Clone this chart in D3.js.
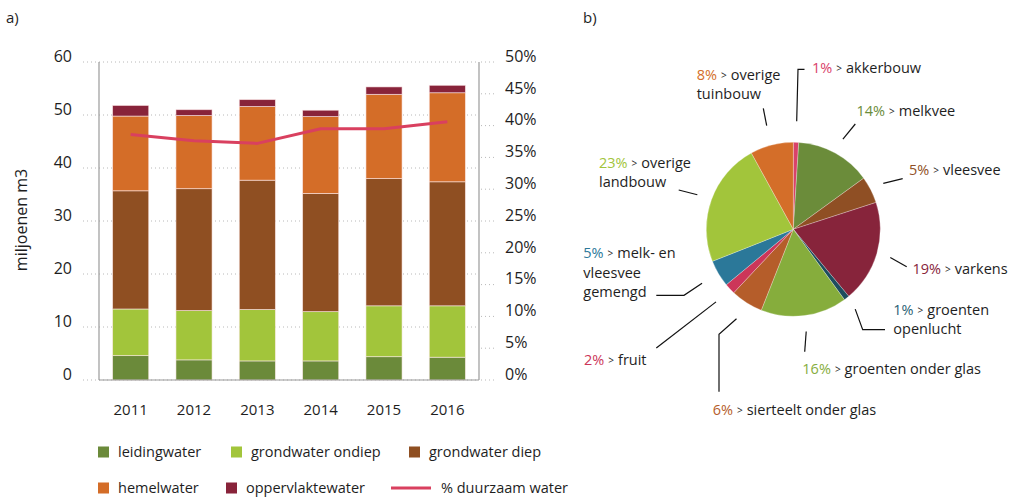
<!DOCTYPE html>
<html>
<head>
<meta charset="utf-8">
<script src="https://cdn.jsdelivr.net/npm/d3@7"></script>
<style>
  html, body { margin: 0; padding: 0; background: #fff; }
  svg { display: block; font-family: "Open Sans", "DejaVu Sans", sans-serif; }
</style>
</head>
<body>
<svg id="chart" width="1009" height="497"></svg>
<script>
// ---- a) water use per source (million m3) ----
const years = ["2011", "2012", "2013", "2014", "2015", "2016"];
const sources = ["leidingwater", "grondwater ondiep", "grondwater diep", "hemelwater", "oppervlaktewater"];
const leidingwater      = [4.6, 3.8, 3.6, 3.6, 4.4, 4.3];
const grondwaterOndiep  = [8.8, 9.3, 9.7, 9.3, 9.6, 9.7];
const grondwaterDiep    = [22.3, 23.0, 24.4, 22.3, 24.0, 23.4];
const hemelwater        = [14.1, 13.8, 13.9, 14.5, 15.9, 16.8];
const oppervlaktewater  = [2.0, 1.1, 1.3, 1.2, 1.4, 1.4];
const duurzaamPct       = [38.6, 37.6, 37.2, 39.5, 39.5, 40.6];
const leftTicks  = [0, 10, 20, 30, 40, 50, 60];
const rightTicks = [0, 5, 10, 15, 20, 25, 30, 35, 40, 45, 50];

// ---- b) share per sector ----
const sectors = ["akkerbouw", "melkvee", "vleesvee", "varkens", "groenten openlucht",
  "groenten onder glas", "sierteelt onder glas", "fruit", "melk- en vleesvee gemengd",
  "overige landbouw", "overige tuinbouw"];
const sectorShare = [1, 14, 5, 19, 1, 16, 6, 2, 5, 23, 8];

const sourceColors = ["#6b8a3a", "#a2c53b", "#8f4f22", "#d46d28", "#88233a"];
const lineColor = "#d9405f";
const sectorColors = ["#d9426a", "#6b8c3a", "#8f4f24", "#87243b", "#1d4d5e",
  "#86ad3c", "#b55d2a", "#cc3659", "#2b7899", "#a2c53b", "#d46e29"];
const textColor = "#1e1e1e";
const labelSize = 14.5;

const svg = d3.select("#chart");

// panel letters
svg.append("text").attr("x", 6).attr("y", 23).attr("font-size", 15).attr("fill", textColor).text("a)");
svg.append("text").attr("x", 583).attr("y", 23).attr("font-size", 15).attr("fill", textColor).text("b)");

// ---------------- stacked bars ----------------
const plot = { left: 99, right: 479, top: 62, bottom: 380 };
const x = d3.scaleBand().domain(years).range([plot.left, plot.right]).paddingInner(0.43).paddingOuter(0.215);
const y = d3.scaleLinear().domain([0, 60]).range([plot.bottom, plot.top]);
const yPct = d3.scaleLinear().domain([0, 50]).range([plot.bottom, plot.top]);

const table = years.map((yr, i) => ({
  year: yr,
  "leidingwater": leidingwater[i],
  "grondwater ondiep": grondwaterOndiep[i],
  "grondwater diep": grondwaterDiep[i],
  "hemelwater": hemelwater[i],
  "oppervlaktewater": oppervlaktewater[i]
}));
const stacked = d3.stack().keys(sources)(table);

// dotted gridlines
svg.append("g").selectAll("line").data(leftTicks).join("line")
  .attr("x1", 83).attr("x2", plot.right)
  .attr("y1", d => y(d)).attr("y2", d => y(d))
  .attr("stroke", "#b8b8b8").attr("stroke-width", 1).attr("stroke-dasharray", "1,3");
// right-hand short dotted ticks
svg.append("g").selectAll("line").data(rightTicks).join("line")
  .attr("x1", plot.right + 2).attr("x2", plot.right + 15)
  .attr("y1", d => yPct(d)).attr("y2", d => yPct(d))
  .attr("stroke", "#b8b8b8").attr("stroke-width", 1).attr("stroke-dasharray", "1,3");

// bars
svg.append("g").selectAll("g").data(stacked).join("g")
  .attr("fill", (d, i) => sourceColors[i])
  .selectAll("rect").data(d => d).join("rect")
  .attr("x", d => x(d.data.year))
  .attr("width", x.bandwidth())
  .attr("y", d => y(d[1]))
  .attr("height", d => y(d[0]) - y(d[1]))
  .attr("stroke", "rgba(255,235,235,0.7)").attr("stroke-width", 0.8);

// axis frame
const frame = svg.append("g").attr("stroke", "#9a9a9a").attr("stroke-width", 1.2);
frame.append("line").attr("x1", plot.left).attr("x2", plot.left).attr("y1", plot.top).attr("y2", plot.bottom);
frame.append("line").attr("x1", plot.right).attr("x2", plot.right).attr("y1", plot.top).attr("y2", plot.bottom);
frame.append("line").attr("x1", plot.left).attr("x2", plot.right).attr("y1", plot.bottom).attr("y2", plot.bottom);

// left axis labels
const yAxis = d3.axisLeft(y).tickValues(leftTicks).tickSize(0).tickPadding(0);
const gy = svg.append("g").attr("transform", `translate(72,0)`).call(yAxis);
gy.select(".domain").remove();
gy.selectAll("text").attr("font-size", 16).attr("fill", textColor)
  .attr("font-family", "Open Sans, sans-serif").attr("dy", "-0.05em");

// right axis labels
const yAxisR = d3.axisRight(yPct).tickValues(rightTicks).tickFormat(d => d + "%").tickSize(0).tickPadding(0);
const gr = svg.append("g").attr("transform", `translate(505,0)`).call(yAxisR);
gr.select(".domain").remove();
gr.selectAll("text").attr("font-size", 16).attr("fill", textColor)
  .attr("font-family", "Open Sans, sans-serif").attr("dy", "-0.05em");

// x axis labels
const xAxis = d3.axisBottom(x).tickSize(0).tickPadding(0);
const gx = svg.append("g").attr("transform", `translate(0,404)`).call(xAxis);
gx.select(".domain").remove();
gx.selectAll("text").attr("font-size", 15).attr("fill", textColor)
  .attr("font-family", "Open Sans, sans-serif");

// y title
svg.append("text")
  .attr("transform", "translate(27,220) rotate(-90)")
  .attr("text-anchor", "middle").attr("font-size", 16).attr("fill", textColor)
  .text("miljoenen m3");

// % duurzaam water line
const line = d3.line().x((d, i) => x(years[i]) + x.bandwidth() / 2).y(d => yPct(d));
svg.append("path").datum(duurzaamPct)
  .attr("d", line).attr("fill", "none")
  .attr("stroke", lineColor).attr("stroke-width", 3).attr("stroke-linejoin", "round");

// legend
const legendItems = [
  { label: sources[0], color: sourceColors[0], x: 98, y: 452, kind: "box" },
  { label: sources[1], color: sourceColors[1], x: 231, y: 452, kind: "box" },
  { label: sources[2], color: sourceColors[2], x: 409, y: 452, kind: "box" },
  { label: sources[3], color: sourceColors[3], x: 98, y: 488, kind: "box" },
  { label: sources[4], color: sourceColors[4], x: 226, y: 488, kind: "box" },
  { label: "% duurzaam water", color: lineColor, x: 391, y: 488, kind: "line" }
];
const lg = svg.append("g").selectAll("g").data(legendItems).join("g")
  .attr("transform", d => `translate(${d.x},${d.y})`);
lg.filter(d => d.kind === "box").append("rect")
  .attr("x", 0).attr("y", -5.5).attr("width", 11).attr("height", 11).attr("fill", d => d.color);
lg.filter(d => d.kind === "line").append("line")
  .attr("x1", 0).attr("x2", 40).attr("y1", 0).attr("y2", 0)
  .attr("stroke", d => d.color).attr("stroke-width", 3);
lg.append("text")
  .attr("x", d => d.kind === "line" ? 50 : 20).attr("y", 5)
  .attr("font-size", labelSize).attr("fill", textColor).text(d => d.label);

// ---------------- pie ----------------
const cx = 793.3, cy = 229.3, R = 87;
const pieG = svg.append("g").attr("transform", `translate(${cx},${cy})`);
const pie = d3.pie().sort(null).value(d => d)(sectorShare);
const arc = d3.arc().innerRadius(0).outerRadius(R);
pieG.selectAll("path").data(pie).join("path")
  .attr("d", arc).attr("fill", (d, i) => sectorColors[i])
  .attr("stroke", "rgba(255,255,255,0.45)").attr("stroke-width", 0.6);

// label text and leader geometry per sector
const labelLines = [
  ["akkerbouw"], ["melkvee"], ["vleesvee"], ["varkens"], ["groenten", "openlucht"],
  ["groenten onder glas"], ["sierteelt onder glas"], ["fruit"], ["melk- en", "vleesvee", "gemengd"],
  ["overige", "landbouw"], ["overige", "tuinbouw"]
];
const labelLayout = [
  { tx: 812, ty: 73, leader: [[798, 69.3], [804.5, 69.3]], r: 108 },
  { tx: 856.5, ty: 116, leader: [[855.3, 124]], r: 103 },
  { tx: 909, ty: 174.5, leader: [[902.7, 178.7]], r: 101 },
  { tx: 912.5, ty: 274, leader: [[906.7, 266.7]], r: 101 },
  { tx: 893.3, ty: 315, leader: [[862.7, 329.7], [885, 329.7]], r: 101 },
  { tx: 802.3, ty: 373.5, leader: [[804.7, 351.7]], r: 103 },
  { tx: 712.7, ty: 414.5, leader: [[719, 334.3], [719, 391.7]], r: 106 },
  { tx: 584, ty: 365, leader: [[656.3, 348]], r: 106 },
  { tx: 583.3, ty: 258.3, leader: [[684, 295.3], [656.3, 295.3]], r: 106 },
  { tx: 599, ty: 167.7, leader: [[678.7, 190]], r: 102 },
  { tx: 696.7, ty: 80, leader: [[763.3, 108.3]], r: 107 }
];

const leaders = svg.append("g").attr("fill", "none").attr("stroke", "#111").attr("stroke-width", 1.2);
pie.forEach((p, i) => {
  const L = labelLayout[i];
  const mid = (p.startAngle + p.endAngle) / 2;
  const start = [cx + L.r * Math.sin(mid), cy - L.r * Math.cos(mid)];
  leaders.append("path").attr("d", d3.line()([start, ...L.leader]));

  const t = svg.append("text").attr("x", L.tx).attr("y", L.ty)
    .attr("font-size", labelSize).attr("fill", textColor);
  labelLines[i].forEach((ln, j) => {
    if (j === 0) {
      t.append("tspan").attr("x", L.tx).attr("fill", sectorColors[i] === "#1d4d5e" ? "#2d5f74" : sectorColors[i])
        .text(Math.round(p.data) + "%");
      t.append("tspan").attr("font-size", 10).attr("dx", 4).attr("dy", -1).text(">");
      t.append("tspan").attr("dx", 4).attr("dy", 1).text(ln);
    } else {
      t.append("tspan").attr("x", L.tx).attr("dy", 19.3).text(ln);
    }
  });
});
</script>
</body>
</html>
